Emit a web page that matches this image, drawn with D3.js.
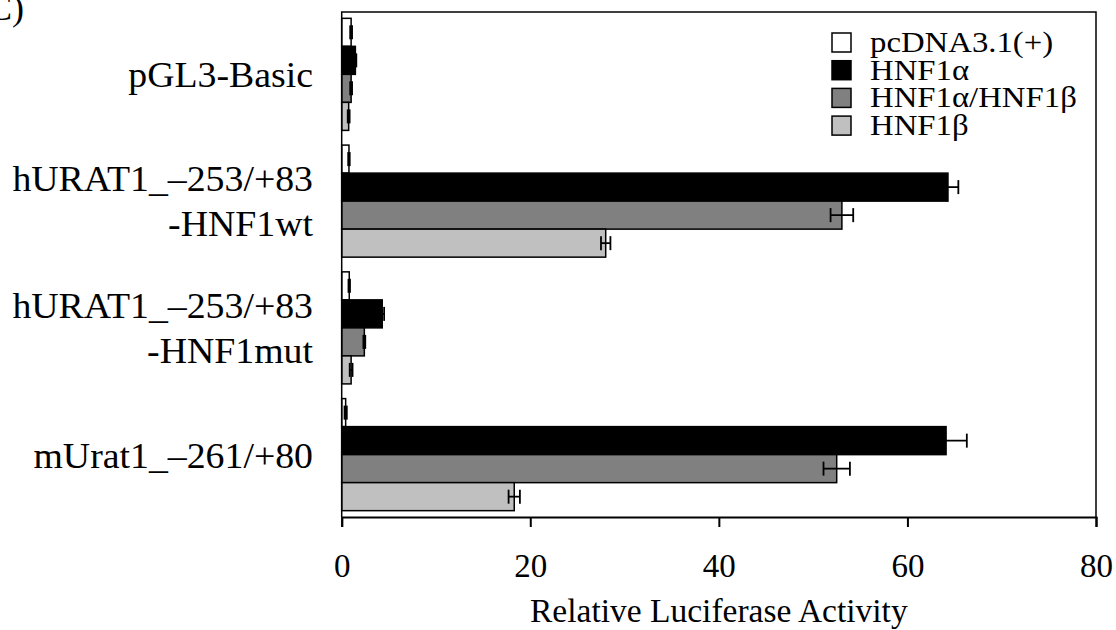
<!DOCTYPE html>
<html>
<head>
<meta charset="utf-8">
<script src="https://cdn.jsdelivr.net/npm/d3@7"></script>
<style>
  body { margin: 0; background: #fff; }
  text { font-family: "Liberation Serif", "Times New Roman", serif; fill: #000; }
</style>
</head>
<body>
<div class="chart"></div>
<script>
var categories = ["pGL3-Basic", "hURAT1_\u2013253/+83|-HNF1wt", "hURAT1_\u2013253/+83|-HNF1mut", "mUrat1_\u2013261/+80"];
var seriesNames = ["pcDNA3.1(+)", "HNF1\u03b1", "HNF1\u03b1/HNF1\u03b2", "HNF1\u03b2"];
var seriesColors = ["#ffffff", "#000000", "#808080", "#c0c0c0"];

// mean values per series, one entry per category
var pcdnaVals = [1.0, 0.77, 0.8, 0.42];
var hnf1aVals = [1.45, 64.3, 4.3, 64.1];
var hnf1abVals = [1.0, 53.05, 2.4, 52.5];
var hnf1bVals = [0.74, 28.0, 1.0, 18.3];

// error (SD) per series
var pcdnaErr = [0.1, 0.08, 0.08, 0.12];
var hnf1aErr = [0.1, 1.1, 0.2, 2.2];
var hnf1abErr = [0.1, 1.2, 0.1, 1.4];
var hnf1bErr = [0.1, 0.5, 0.15, 0.6];

var xTicks = [0, 20, 40, 60, 80];

var allVals = [pcdnaVals, hnf1aVals, hnf1abVals, hnf1bVals];
var allErr = [pcdnaErr, hnf1aErr, hnf1abErr, hnf1bErr];

var rows = [];
categories.forEach(function(c, ci) {
    seriesNames.forEach(function(s, si) {
        rows.push({cat: c, series: s, si: si, value: allVals[si][ci], err: allErr[si][ci]});
    });
});

var margin = {left: 341.7, right: 20, top: 12, bottom: 113};
var width = 1116, height = 630;
var plotW = 1096 - margin.left;
var plotH = 517 - margin.top;

var svg = d3.select("body div.chart").append("svg")
            .attr("width", width).attr("height", height);

var chartGroup = svg.append("g")
            .attr("transform", "translate(" + margin.left + "," + margin.top + ")");

var x = d3.scaleLinear()
            .domain([0, 80])
            .range([0, plotW]);

var y = d3.scaleBand()
            .domain(categories)
            .range([0, plotH])
            .paddingInner(0.116)
            .paddingOuter(0.05);

var ySub = d3.scaleBand()
            .domain(seriesNames)
            .range([0, y.bandwidth()]);

var color = d3.scaleOrdinal().domain(seriesNames).range(seriesColors);

// bars
chartGroup.selectAll("rect.bar")
        .data(rows)
        .enter().append("rect")
            .attr("class", "bar")
            .attr("x", x(0))
            .attr("y", function(d) { return y(d.cat) + ySub(d.series); })
            .attr("width", function(d) { return x(d.value) - x(0); })
            .attr("height", ySub.bandwidth())
            .attr("fill", function(d) { return color(d.series); })
            .attr("stroke", "#000")
            .attr("stroke-width", 1.5);

// error bars
var capH = 14;
var err = chartGroup.selectAll("g.err")
        .data(rows)
        .enter().append("g")
            .attr("class", "err")
            .attr("transform", function(d) { return "translate(0," + (y(d.cat) + ySub(d.series) + ySub.bandwidth() / 2) + ")"; })
            .attr("stroke", "#000")
            .attr("stroke-width", 1.8);

err.append("line")
    .attr("x1", function(d) { return x(d.value - d.err); })
    .attr("x2", function(d) { return x(d.value + d.err); });
err.append("line")
    .attr("x1", function(d) { return x(d.value - d.err); })
    .attr("x2", function(d) { return x(d.value - d.err); })
    .attr("y1", -capH / 2).attr("y2", capH / 2);
err.append("line")
    .attr("x1", function(d) { return x(d.value + d.err); })
    .attr("x2", function(d) { return x(d.value + d.err); })
    .attr("y1", -capH / 2).attr("y2", capH / 2);

// frame (top, right, left)
chartGroup.append("path")
    .attr("d", "M0," + plotH + "V0H" + plotW + "V" + plotH)
    .attr("fill", "none")
    .attr("stroke", "#000")
    .attr("stroke-width", 1.5);

// x axis
var xAxis = chartGroup.append("g")
    .attr("transform", "translate(0," + plotH + ")")
    .call(d3.axisBottom(x).tickValues(xTicks).tickSize(10));
xAxis.select(".domain").attr("stroke-width", 2);
xAxis.selectAll(".tick line").attr("stroke-width", 2);
xAxis.selectAll(".tick text")
    .attr("font-family", "'Liberation Serif', 'Times New Roman', serif")
    .attr("font-size", 33)
    .attr("dy", 0)
    .attr("y", 60);

chartGroup.append("text")
    .attr("x", plotW / 2)
    .attr("y", 610)
    .attr("text-anchor", "middle")
    .attr("font-size", 33.5)
    .text("Relative Luciferase Activity");

// category labels
var labels = chartGroup.selectAll("text.cat")
    .data(categories)
    .enter().append("text")
        .attr("class", "cat")
        .attr("text-anchor", "end")
        .attr("font-size", 36)
        .attr("transform", function(d) { return "translate(" + (313 - margin.left) + "," + (y(d) + y.bandwidth() / 2) + ") scale(1.05,1)"; });

labels.each(function(d) {
    var parts = d.split("|");
    var t = d3.select(this);
    if (parts.length == 1) {
        t.append("tspan").attr("x", 0).attr("y", 13).text(parts[0]);
    } else {
        t.append("tspan").attr("x", 0).attr("y", -10).text(parts[0]);
        t.append("tspan").attr("x", 0).attr("y", 35).text(parts[1]);
    }
});

// legend
var legend = svg.append("g").attr("transform", "translate(832,33)");
var leg = legend.selectAll("g")
    .data(seriesNames)
    .enter().append("g")
        .attr("transform", function(d, i) { return "translate(0," + (i * 27.7) + ")"; });
leg.append("rect")
    .attr("width", 19).attr("height", 19)
    .attr("fill", function(d) { return color(d); })
    .attr("stroke", "#000")
    .attr("stroke-width", 1.5);
leg.append("text")
    .attr("transform", "translate(38,19) scale(1.13,1)")
    .attr("font-size", 29)
    .text(function(d) { return d; });

// panel letter, cut off at the page edge
svg.append("text")
    .attr("x", -24)
    .attr("y", 20)
    .attr("font-size", 36)
    .text("(C)");
</script>
</body>
</html>
